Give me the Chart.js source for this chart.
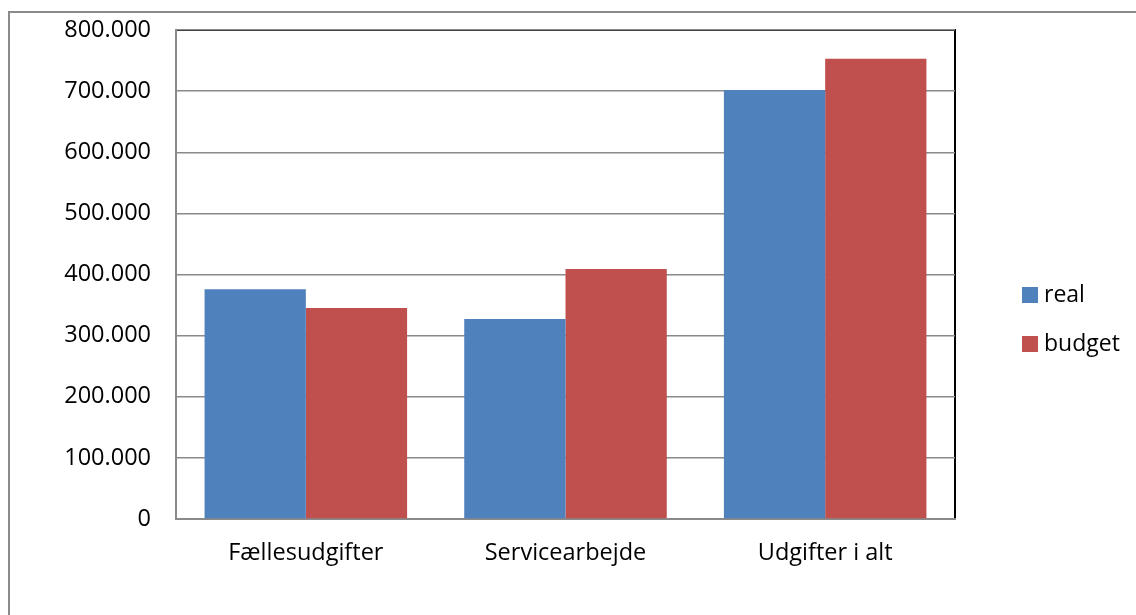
<!DOCTYPE html>
<html>
<head>
<meta charset="utf-8">
<script src="https://cdn.jsdelivr.net/npm/chart.js@4.4.1/dist/chart.umd.min.js"></script>
<style>
  html, body { margin: 0; padding: 0; background: #fff; }
  #wrap { width: 1136px; height: 615px; }
</style>
</head>
<body>
<div id="wrap"><canvas id="udgiftChart" width="1136" height="615"></canvas></div>
<script>
// data
const categories = ['Fællesudgifter', 'Servicearbejde', 'Udgifter i alt'];
const realValues = [376000, 327000, 702000];
const budgetValues = [345000, 409000, 753000];
const seriesNames = ['real', 'budget'];
const yTicks = [0, 100000, 200000, 300000, 400000, 500000, 600000, 700000, 800000];

const FONT = '"Open Sans", sans-serif';

// 800000 -> "800.000"
function fmt(v) {
    return String(v).replace(/\B(?=(\d{3})+(?!\d))/g, '.');
}

// ramme, plotkant og legend
const decor = {
    id: 'decor',
    beforeDraw(chart) {
        const c = chart.ctx;
        const a = chart.chartArea;
        c.save();
        c.fillStyle = '#fff';
        c.fillRect(0, 0, chart.width, chart.height);
        c.strokeStyle = '#8a8a8a';
        c.lineWidth = 2;
        c.strokeRect(9, 12, chart.width + 10, chart.height + 10);
        c.strokeStyle = '#000';
        c.lineWidth = 2;
        c.beginPath();
        c.moveTo(a.left, a.top);
        c.lineTo(a.right, a.top);
        c.lineTo(a.right, a.bottom);
        c.stroke();
        c.restore();
    },
    afterDraw(chart) {
        const c = chart.ctx;
        c.save();
        c.font = '23px ' + FONT;
        c.textBaseline = 'middle';
        chart.data.datasets.forEach((ds, i) => {
            const y = 295 + i * 49;
            c.fillStyle = ds.backgroundColor;
            c.fillRect(1022, y - 8, 16, 16);
            c.fillStyle = '#000';
            c.fillText(ds.label, 1044, y);
        });
        c.restore();
    }
};

const udgiftChart = new Chart(document.getElementById('udgiftChart'), {
    type: 'bar',
    data: {
        labels: categories,
        datasets: [
            { label: seriesNames[0], data: realValues, backgroundColor: '#4F81BD' },
            { label: seriesNames[1], data: budgetValues, backgroundColor: '#C0504D' }
        ]
    },
    options: {
        responsive: false,
        animation: false,
        layout: { padding: { top: 30, right: 181, bottom: 0, left: 0 } },
        categoryPercentage: 0.78,
        barPercentage: 1.0,
        plugins: {
            legend: { display: false },
            tooltip: { enabled: false }
        },
        scales: {
            x: {
                grid: { display: false, drawTicks: false },
                border: { color: '#8a8a8a', width: 2 },
                ticks: { color: '#000', font: { family: FONT, size: 23.5 }, padding: 20, maxRotation: 0 },
                afterFit(s) { s.height = 96; }
            },
            y: {
                min: 0,
                max: 800000,
                afterBuildTicks(s) { s.ticks = yTicks.map(v => ({ value: v })); },
                grid: { color: '#8a8a8a', lineWidth: 1.5, drawTicks: false },
                border: { color: '#8a8a8a', width: 2 },
                ticks: {
                    color: '#000',
                    font: { family: FONT, size: 23.5 },
                    padding: 25,
                    callback: v => fmt(v)
                },
                afterFit(s) { s.width = 176; s.paddingTop = 0; s.paddingBottom = 0; }
            }
        }
    },
    plugins: [decor]
});
</script>
</body>
</html>
